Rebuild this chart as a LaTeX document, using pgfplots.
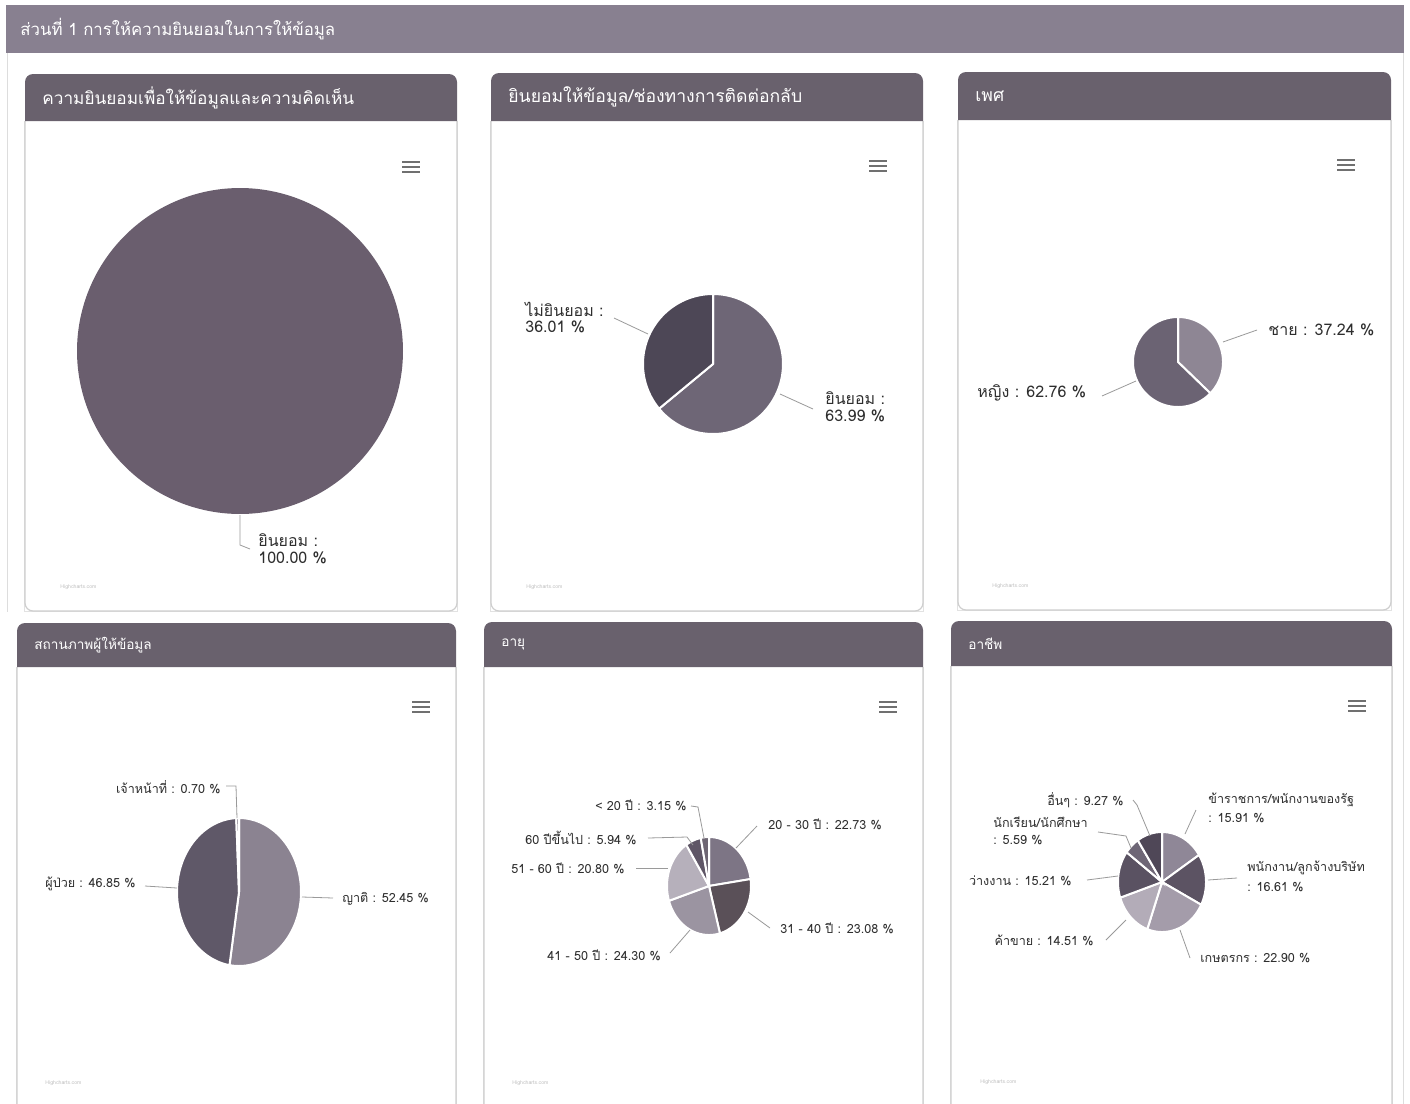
\documentclass[border=0pt]{standalone}
\usepackage{pgfplots}
\pgfplotsset{compat=1.18}
\usepackage{fontspec}
\setmainfont[Script=Thai]{Loma}
\definecolor{bannercol}{HTML}{888090}
\definecolor{headcol}{HTML}{69616D}
\definecolor{bordcol}{HTML}{CFCFCF}
\definecolor{labcol}{HTML}{2E2E2E}
\definecolor{linecol}{HTML}{9A9A9A}
\definecolor{hamcol}{HTML}{707070}
\definecolor{pA}{HTML}{6A5E6E}
\definecolor{cBa}{HTML}{6E6676}
\definecolor{cBb}{HTML}{4D4756}
\definecolor{cCa}{HTML}{8E8694}
\definecolor{cCb}{HTML}{6B6373}
\definecolor{cDa}{HTML}{8B8391}
\definecolor{cDb}{HTML}{5F5868}
\definecolor{cDc}{HTML}{7A7280}
\definecolor{cEa}{HTML}{7D7585}
\definecolor{cEb}{HTML}{5A5058}
\definecolor{cEc}{HTML}{9B94A1}
\definecolor{cEd}{HTML}{B6B0BB}
\definecolor{cEe}{HTML}{5F5666}
\definecolor{cEf}{HTML}{6E6673}
\definecolor{cFa}{HTML}{8F8797}
\definecolor{cFb}{HTML}{5C5363}
\definecolor{cFc}{HTML}{A49CAA}
\definecolor{cFd}{HTML}{B3ACB8}
\definecolor{cFe}{HTML}{5A5262}
\definecolor{cFf}{HTML}{6E6676}
\definecolor{cFg}{HTML}{4F4757}
\pgfplotsset{pieaxis/.style={hide axis, scale only axis, xmin=-1, xmax=1, ymin=-1, ymax=1, anchor=center, clip=false}}
% slice: start percent, value percent, colour
\newcommand\pieslice[3]{\addplot[fill=#3, draw=white, line width=1pt, domain=90-3.6*(#1+#2):90-3.6*(#1), samples=90] ({cos(x)},{sin(x)}) -- (axis cs:0,0) -- cycle;}
% panel: x1, y1(top), x2, yh(header bottom), y2(bottom), title, size
\newcommand\panel[7]{%
  \fill[bordcol!60] (#1-1,#4) rectangle (#3+1,#5+1);
  \fill[white] (#1,#4) rectangle (#3,#5);
  \draw[bordcol, line width=0.6pt, rounded corners=4] (#1,#4) -- (#1,#5) -- (#3,#5) -- (#3,#4);
  \fill[headcol] (#1,#4) [rounded corners=4] -- (#1,#2) -- (#3,#2) [sharp corners] -- (#3,#4) -- cycle;
  \node[anchor=west, text=white, font=\fontsize{#7}{#7}\selectfont, inner sep=0pt] at (#1+17,{(#2+#4)/2}) {#6};}
\newcommand\ham[2]{\foreach \d in {-5,0,5} \draw[hamcol, line width=1.1pt] (#1-9,#2+\d) -- (#1+9,#2+\d);}
\newcommand\lab[4]{\node[anchor=#1, text=labcol, font=\fontsize{#4}{#4}\selectfont, inner sep=0pt] at (#2) {#3};}
\begin{document}
\begin{tikzpicture}
\begin{scope}[x=0.5pt,y=-0.5pt]
\path[use as bounding box] (0,0) rectangle (1410,1104);
\fill[white] (0,0) rectangle (1410,1104);
\draw[bordcol!70, line width=0.5pt] (7,53) -- (7,612);
\draw[bordcol!70, line width=0.5pt] (1403,53) -- (1403,1104);
\fill[bannercol] (6,5) rectangle (1404,53);
\node[anchor=west, text=white, font=\fontsize{8.4}{9}\selectfont, inner sep=0pt] at (20,29) {ส่วนที่ 1 การให้ความยินยอมในการให้ข้อมูล};
\panel{25}{74}{457}{121}{611}{ความยินยอมเพื่อให้ข้อมูลและความคิดเห็น}{8.6}
\panel{491}{73}{923}{121}{611}{ยินยอมให้ข้อมูล/ช่องทางการติดต่อกลับ}{8.8}
\panel{958}{72}{1391}{120}{610}{เพศ}{8.8}
\panel{17}{623}{456}{667}{1130}{สถานภาพผู้ให้ข้อมูล}{6.8}
\panel{484}{622}{923}{667}{1130}{อายุ}{6.8}
\panel{951}{621}{1392}{666}{1130}{อาชีพ}{6.8}
\ham{411}{167}\ham{878}{166}\ham{1346}{165}
\ham{421}{707}\ham{888}{707}\ham{1357}{706}
\foreach \x/\y in {60/587,526/587,992/586,45/1083,512/1083,980/1082}
  \node[anchor=west, text=gray!50, font=\fontsize{2.6}{3}\selectfont, inner sep=0pt] at (\x,\y) {Highcharts.com};
\coordinate (p1) at (240,351);
\coordinate (p2) at (713,364);
\coordinate (p3) at (1178,362);
\coordinate (p4) at (239,892);
\coordinate (p5) at (709,886);
\coordinate (p6) at (1162,882);
\end{scope}
% pie 1
\begin{axis}[pieaxis, at={(p1)}, width=163pt, height=163pt]
\addplot[fill=pA, draw=none, domain=0:360, samples=200] ({cos(x)},{sin(x)}) -- cycle;
\end{axis}
% pie 2
\begin{axis}[pieaxis, at={(p2)}, width=70pt, height=70pt]
\pieslice{0}{63.99}{cBa}
\pieslice{63.99}{36.01}{cBb}
\end{axis}
% pie 3
\begin{axis}[pieaxis, at={(p3)}, width=45pt, height=45pt]
\pieslice{0}{37.24}{cCa}
\pieslice{37.24}{62.76}{cCb}
\end{axis}
% pie 4
\begin{axis}[pieaxis, at={(p4)}, width=62pt, height=74pt]
\pieslice{0}{52.45}{cDa}
\pieslice{52.45}{46.85}{cDb}
\pieslice{99.30}{0.70}{cDc}
\end{axis}
% pie 5
\begin{axis}[pieaxis, at={(p5)}, width=42pt, height=49pt]
\pieslice{0}{22.73}{cEa}
\pieslice{22.73}{23.08}{cEb}
\pieslice{45.81}{24.30}{cEc}
\pieslice{70.11}{20.80}{cEd}
\pieslice{90.91}{5.94}{cEe}
\pieslice{96.85}{3.15}{cEf}
\end{axis}
% pie 6
\begin{axis}[pieaxis, at={(p6)}, width=44pt, height=50pt]
\pieslice{0}{15.91}{cFa}
\pieslice{15.91}{16.61}{cFb}
\pieslice{32.52}{22.90}{cFc}
\pieslice{55.42}{14.51}{cFd}
\pieslice{69.93}{15.21}{cFe}
\pieslice{85.14}{5.59}{cFf}
\pieslice{90.73}{9.27}{cFg}
\end{axis}
\begin{scope}[x=0.5pt,y=-0.5pt]
\tikzset{cn/.style={linecol, line width=0.4pt}}
% pie 1 labels
\draw[cn] (240,515) -- (240,545) -- (250,549);
\lab{west}{258,540}{ยินยอม :}{8.0}
\lab{west}{258,558}{100.00 \%}{8.0}
% pie 2
\draw[cn] (614,318) -- (648,334);
\lab{west}{525,309}{ไม่ยินยอม :}{8.0}
\lab{west}{525,327}{36.01 \%}{8.0}
\draw[cn] (780,394) -- (813,409);
\lab{west}{825,398}{ยินยอม :}{8.0}
\lab{west}{825,416}{63.99 \%}{8.0}
% pie 3
\draw[cn] (1223,342) -- (1257,330);
\lab{west}{1268,330}{ชาย : 37.24 \%}{8.0}
\draw[cn] (1102,396) -- (1136,381);
\lab{west}{977,393}{หญิง : 62.76 \%}{8.0}
% pie 4
\draw[cn] (226,786) -- (236,786) -- (237,818);
\lab{east}{221,787}{เจ้าหน้าที่ : 0.70 \%}{6.3}
\draw[cn] (145,886) -- (177,888);
\lab{west}{45,884}{ผู้ป่วย : 46.85 \%}{6.3}
\draw[cn] (302,897) -- (333,898);
\lab{west}{342,899}{ญาติ : 52.45 \%}{6.3}
% pie 5
\draw[cn] (691,806) -- (698,807) -- (704,838);
\lab{east}{687,805}{< 20 ปี : 3.15 \%}{6.3}
\draw[cn] (757,826) -- (736,848);
\lab{west}{768,824}{20 - 30 ปี : 22.73 \%}{6.3}
\draw[cn] (648,838) -- (687,837) -- (693,845);
\lab{east}{637,838}{60 ปีขึ้นไป : 5.94 \%}{6.3}
\draw[cn] (636,868) -- (668,868);
\lab{east}{625,868}{51 - 60 ปี : 20.80 \%}{6.3}
\draw[cn] (770,928) -- (748,912);
\lab{west}{780,928}{31 - 40 ปี : 23.08 \%}{6.3}
\draw[cn] (670,953) -- (690,930);
\lab{west}{547,955}{41 - 50 ปี : 24.30 \%}{6.3}
% pie 6
\draw[cn] (1133,800) -- (1137,805) -- (1150,836);
\lab{east}{1124,800}{อื่นๆ : 9.27 \%}{6.3}
\draw[cn] (1098,832) -- (1126,836) -- (1131,848);
\lab{west}{993,822}{นักเรียน/นักศึกษา}{6.3}
\lab{west}{993,840}{: 5.59 \%}{6.3}
\draw[cn] (1087,880) -- (1118,876);
\lab{east}{1072,881}{ว่างงาน : 15.21 \%}{6.3}
\draw[cn] (1106,940) -- (1126,920);
\lab{east}{1094,940}{ค้าขาย : 14.51 \%}{6.3}
\draw[cn] (1196,810) -- (1185,834);
\lab{west}{1208,800}{ข้าราชการ/พนักงานของรัฐ}{6.3}
\lab{west}{1208,818}{: 15.91 \%}{6.3}
\draw[cn] (1237,878) -- (1208,880);
\lab{west}{1247,868}{พนักงาน/ลูกจ้างบริษัท}{6.3}
\lab{west}{1247,887}{: 16.61 \%}{6.3}
\draw[cn] (1190,958) -- (1180,930);
\lab{west}{1200,958}{เกษตรกร : 22.90 \%}{6.3}
\end{scope}
\end{tikzpicture}
\end{document}
